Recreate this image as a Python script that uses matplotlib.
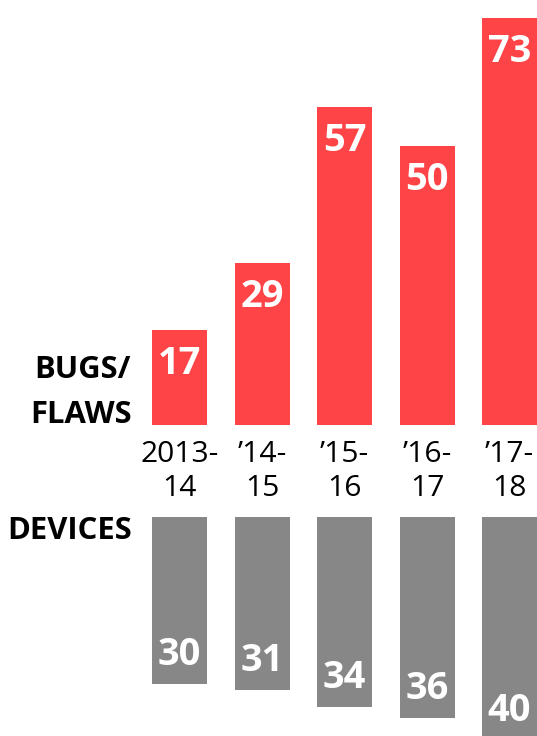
import matplotlib
matplotlib.use("Agg")
import matplotlib.pyplot as plt

categories = ["2013-\n14", "\u201914-\n15", "\u201915-\n16", "\u201916-\n17", "\u201917-\n18"]
bugs = [17, 29, 57, 50, 73]
devices = [30, 31, 34, 36, 40]

RED = "#FE4447"
GRAY = "#878787"

BOLD = dict(family=["Open Sans", "DejaVu Sans"], fontweight="bold", fontstretch="condensed")
REG = dict(family=["Open Sans", "DejaVu Sans"], fontweight="normal")

DPI = 72
W, H = 537, 736
fig = plt.figure(figsize=(W / DPI, H / DPI), dpi=DPI)

pxu = 5.58          # pixels per unit
spacing = 82.5      # px between bar centres
c0 = 179.5          # px of first bar centre
xl = (-c0 / spacing, (W - c0) / spacing)
bw = 55 / spacing

top_base = 425
ax1 = fig.add_axes([0, (H - top_base) / H, 1, top_base / H])
ax1.set_xlim(*xl)
ax1.set_ylim(0, top_base / pxu)
ax1.axis("off")
x = list(range(len(categories)))
ax1.bar(x, bugs, width=bw, color=RED)
for i, v in enumerate(bugs):
    ax1.annotate(str(v), (i, v), xytext=(0, -34), textcoords="offset points",
                 ha="center", va="center", color="white", fontsize=38, **BOLD)
for i, c in enumerate(categories):
    l1, l2 = c.split("\n")
    ax1.annotate(l1, (i, 0), xytext=(0, -29), textcoords="offset points",
                 ha="center", va="center", color="black", fontsize=30,
                 annotation_clip=False, **REG)
    ax1.annotate(l2, (i, 0), xytext=(0, -64), textcoords="offset points",
                 ha="center", va="center", color="black", fontsize=30,
                 annotation_clip=False, **REG)

bot_top = 517
ax2 = fig.add_axes([0, 0, 1, (H - bot_top) / H])
ax2.set_xlim(*xl)
ax2.set_ylim((H - bot_top) / pxu, 0)
ax2.axis("off")
ax2.bar(x, devices, width=bw, color=GRAY)
for i, v in enumerate(devices):
    ax2.annotate(str(v), (i, v), xytext=(0, 29), textcoords="offset points",
                 ha="center", va="center", color="white", fontsize=38,
                 annotation_clip=False, **BOLD)

fig.text(131 / W, 1 - 370 / H, "BUGS/", ha="right", va="center", fontsize=31, **BOLD)
fig.text(132 / W, 1 - 415 / H, "FLAWS", ha="right", va="center", fontsize=31, **BOLD)
fig.text(132 / W, 1 - 531 / H, "DEVICES", ha="right", va="center", fontsize=31, **BOLD)

fig.savefig("out.png", dpi=DPI)
